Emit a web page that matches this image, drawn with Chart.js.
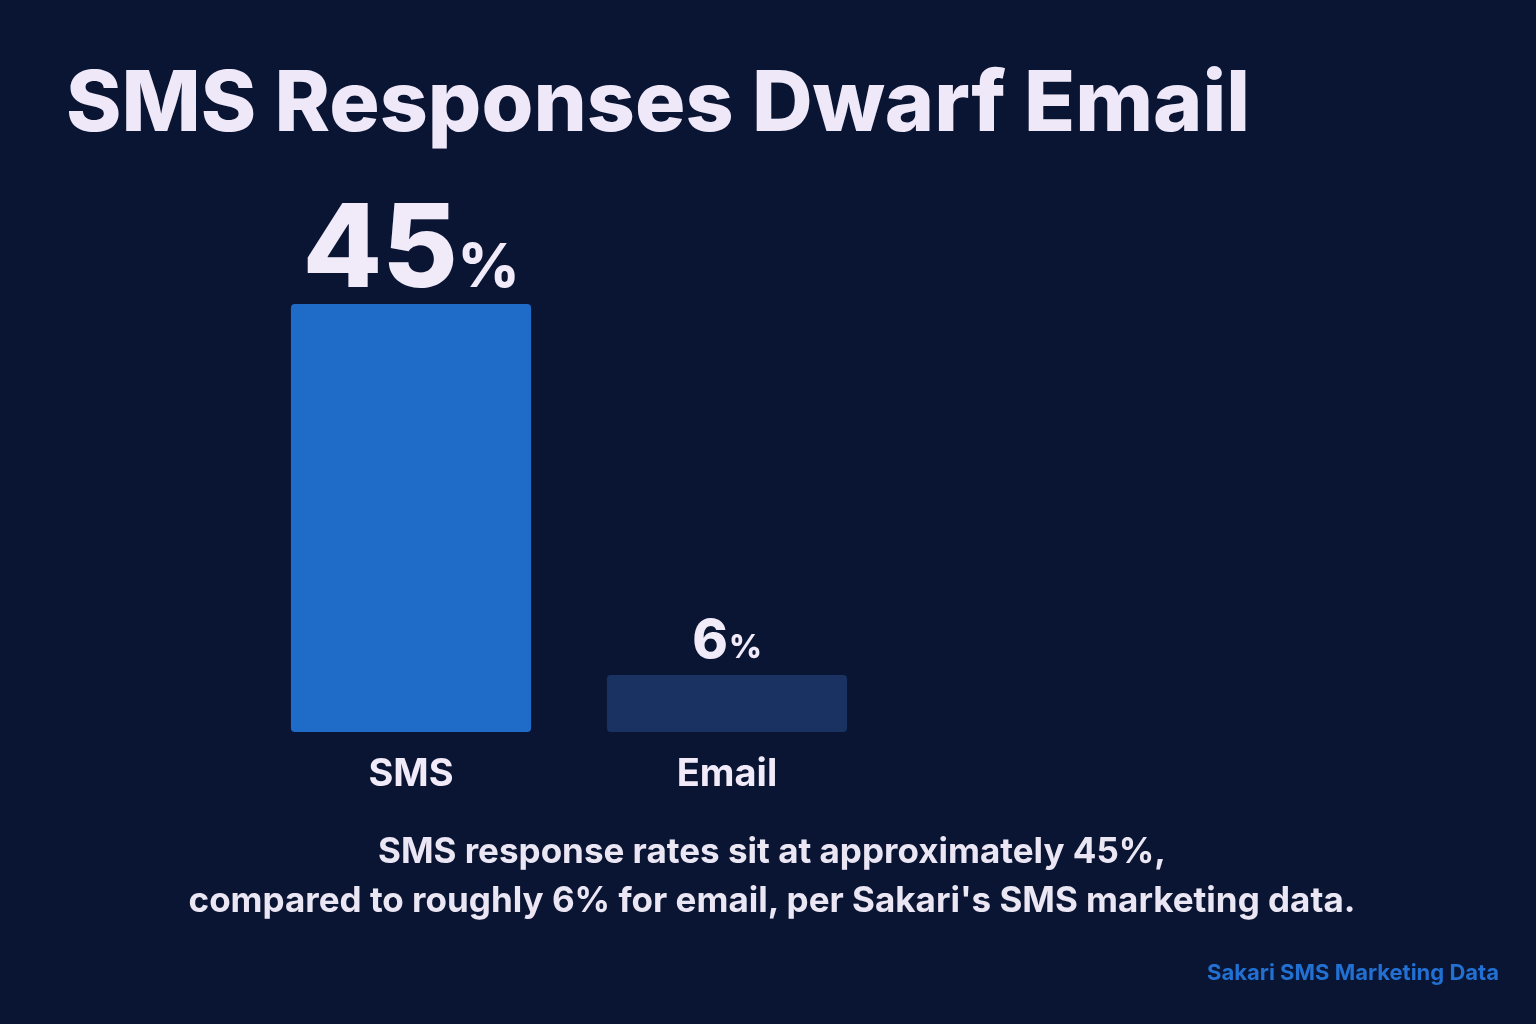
<!DOCTYPE html>
<html>
<head>
<meta charset="utf-8">
<script src="https://cdn.jsdelivr.net/npm/chart.js@4"></script>
<style>
  html, body { margin: 0; padding: 0; background: #0a1533; }
  #wrap { position: relative; width: 1536px; height: 1024px; overflow: hidden; font-family: Inter, "Open Sans", sans-serif; }
  canvas { position: absolute; left: 0; top: 0; }
  .title { position: absolute; left: 66px; top: 50px; font-size: 84px; font-weight: 800; color: #efe8f8; letter-spacing: 0px; }
  .caption { position: absolute; left: 0; width: 1544px; top: 826px; text-align: center; font-size: 35px; font-weight: 700; color: #ebe6f3; line-height: 49px; }
  .source { position: absolute; right: 37px; top: 959px; font-size: 22px; font-weight: 700; color: #2170d2; }
</style>
</head>
<body>
<div id="wrap">
  <canvas id="chart" width="1536" height="1024"></canvas>
  <div class="title">SMS Responses Dwarf Email</div>
  <div class="caption">SMS response rates sit at approximately 45%,<br>compared to roughly 6% for email, per Sakari's SMS marketing data.</div>
  <div class="source">Sakari SMS Marketing Data</div>
</div>
<script>
// chart data
const categories = ['SMS', 'Email'];
const responseRates = [45, 6];
const barColors = ['#1e6bc8', '#1a3262'];

// value labels above bars and category labels below
const labelPlugin = {
  id: 'labels',
  afterDatasetsDraw(chart) {
    const ctx = chart.ctx;
    const meta = chart.getDatasetMeta(0);
    meta.data.forEach((bar, i) => {
      const big = i === 0;
      const numFont = big ? 116 : 54;
      const pctFont = big ? 60 : 32;
      const num = String(responseRates[i]);
      ctx.save();
      ctx.fillStyle = '#f1eaf9';
      ctx.textBaseline = 'alphabetic';
      ctx.font = `800 ${numFont}px Inter, sans-serif`;
      const w1 = ctx.measureText(num).width;
      ctx.font = `800 ${pctFont}px Inter, sans-serif`;
      const w2 = ctx.measureText('%').width;
      const gap = big ? 0 : 1;
      const start = bar.x - (w1 + gap + w2) / 2;
      const base = bar.y - 17;
      ctx.font = `800 ${numFont}px Inter, sans-serif`;
      ctx.textAlign = 'left';
      ctx.fillText(num, start, base);
      ctx.font = `800 ${pctFont}px Inter, sans-serif`;
      ctx.fillText('%', start + w1 + gap, base);
      ctx.font = '700 38px Inter, sans-serif';
      ctx.textAlign = 'center';
      ctx.fillText(categories[i], bar.x, chart.chartArea.bottom + 54);
      ctx.restore();
    });
  }
};

new Chart(document.getElementById('chart').getContext('2d'), {
  type: 'bar',
  data: {
    labels: categories,
    datasets: [{
      data: responseRates,
      backgroundColor: barColors,
      borderRadius: 4,
      borderSkipped: false,
      barPercentage: 0.76,
      categoryPercentage: 1
    }]
  },
  options: {
    responsive: false,
    animation: false,
    layout: { padding: { left: 253, right: 651, top: 304, bottom: 292 } },
    plugins: { legend: { display: false }, tooltip: { enabled: false } },
    scales: {
      x: { display: false },
      y: { display: false, min: 0, max: 45 }
    }
  },
  plugins: [labelPlugin]
});
</script>
</body>
</html>
